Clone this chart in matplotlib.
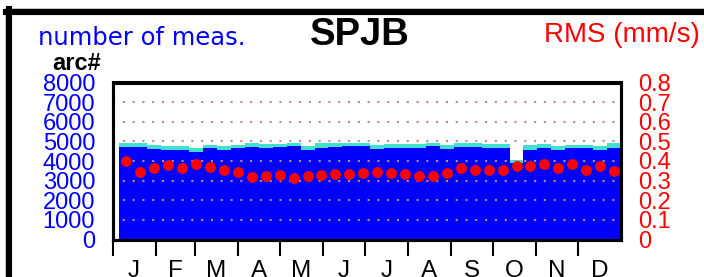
import matplotlib
matplotlib.use("Agg")
import matplotlib.pyplot as plt
from matplotlib.lines import Line2D
import numpy as np

# ---- data ----
bin_centers = [10, 20, 30, 40, 50, 60, 70, 80, 90, 100, 110, 120,
               130, 140, 150, 160, 170, 180, 190, 200, 210, 220, 230, 240,
               250, 260, 270, 280, 290, 300, 310, 320, 330, 340, 350, 360]
n_blue = [4700, 4700, 4610, 4580, 4580, 4440, 4645, 4580, 4645, 4713, 4645, 4713,
          4747, 4577, 4680, 4713, 4747, 4747, 4611, 4680, 4645, 4645, 4747, 4611,
          4713, 4713, 4680, 4680, 3880, 4577, 4645, 4577, 4645, 4645, 4543, 4680]
n_total = [4900, 4900, 4815, 4781, 4781, 4679, 4815, 4764, 4815, 4917, 4849, 4883,
           4917, 4764, 4900, 4917, 4917, 4917, 4815, 4866, 4849, 4849, 4934, 4815,
           4900, 4900, 4866, 4866, 4051, 4815, 4849, 4781, 4832, 4832, 4747, 4900]
rms = [0.400, 0.346, 0.366, 0.378, 0.363, 0.386, 0.369, 0.352, 0.342, 0.318, 0.325, 0.329,
       0.315, 0.322, 0.329, 0.334, 0.336, 0.337, 0.342, 0.339, 0.334, 0.323, 0.325, 0.337,
       0.363, 0.356, 0.352, 0.354, 0.373, 0.373, 0.383, 0.366, 0.383, 0.356, 0.373, 0.347]
month_starts = [0, 31, 59, 90, 120, 151, 181, 212, 243, 273, 304, 334]
month_labels = ["J", "F", "M", "A", "M", "J", "J", "A", "S", "O", "N", "D"]
left_ticks = [0, 1000, 2000, 3000, 4000, 5000, 6000, 7000, 8000]
right_ticks = [0, 0.1, 0.2, 0.3, 0.4, 0.5, 0.6, 0.7, 0.8]
right_labels = ["0", "0.1", "0.2", "0.3", "0.4", "0.5", "0.6", "0.7", "0.8"]

plt.rcParams['font.family'] = ['Liberation Sans', 'DejaVu Sans']

W, H = 704, 277
fig = plt.figure(figsize=(W / 100, H / 100), dpi=100)
fig.patch.set_facecolor('white')

ax = fig.add_axes([112.5 / W, 1 - 239.5 / H, (621 - 112.5) / W, (239.5 - 82.5) / H])
ax.set_xlim(0, 365)
ax.set_ylim(0, 8000)

blue = np.array(n_blue)
total = np.array(n_total)
ax.bar(bin_centers, blue, width=10, color='#0000FF', linewidth=0, zorder=1)
ax.bar(bin_centers, total - blue, bottom=blue, width=10, color='#40E0D0', linewidth=0, zorder=1)

for v in left_ticks[1:-1]:
    ax.axhline(v, color='#B98A8A', linewidth=1.5, linestyle=(0, (1.0, 3.7)), zorder=3)

ax.set_yticks(left_ticks)
ax.set_yticklabels([str(v) for v in left_ticks], color='#0000FF', fontsize=17)
ax.tick_params(axis='y', length=0, pad=12.5)

ax.set_xticks(month_starts)
ax.set_xticklabels([])
ax.tick_params(axis='x', which='major', length=11.5, width=1.5, direction='out', color='black')
mids = [(month_starts[i] + (month_starts[i + 1] if i < 11 else 365)) / 2 for i in range(12)]
ax.set_xticks(mids, minor=True)
ax.set_xticklabels(month_labels, minor=True, fontsize=17.5)
ax.tick_params(axis='x', which='minor', length=0, pad=14.5)

for s in ax.spines.values():
    s.set_linewidth(2.2)
    s.set_zorder(5)

ax2 = ax.twinx()
ax2.set_ylim(0, 0.8)
ax2.plot(bin_centers, rms, 'o', color='#FF0000', markersize=7.8, markeredgewidth=0, zorder=4)
ax2.set_yticks(right_ticks)
ax2.set_yticklabels(right_labels, color='#FF0000', fontsize=17)
ax2.tick_params(axis='y', length=0, pad=12.5)
for s in ax2.spines.values():
    s.set_linewidth(2.2)

# outer frame
fig.add_artist(Line2D([5 / W, 5 / W], [1 - 8 / H, -0.1], color='#d0d0d0', linewidth=0.8))
fig.add_artist(Line2D([5 / W, 1.1], [1 - 8 / H, 1 - 8 / H], color='#d0d0d0', linewidth=0.8))
fig.add_artist(Line2D([9 / W, 9 / W], [1 - 9 / H, -0.1], color='black', linewidth=4.4))
fig.add_artist(Line2D([6 / W, 1.1], [1 - 12 / H, 1 - 12 / H], color='black', linewidth=4.4))

fig.text(38 / W, 1 - 45 / H, "number of meas.", color='#0000FF', fontsize=17.5,
         family=['DejaVu Sans'], va='baseline', ha='left')
fig.text(360 / W, 1 - 45 / H, "SPJB", color='black', fontsize=27.5, fontweight='bold', va='baseline', ha='center')
fig.text(700 / W, 1 - 42 / H, "RMS (mm/s)", color='#FF0000', fontsize=20, va='baseline', ha='right')
fig.text(52 / W, 1 - 70 / H, "arc#", color='black', fontsize=17, fontweight='bold', va='baseline', ha='left')

fig.savefig("out.png", dpi=100, facecolor='white')
